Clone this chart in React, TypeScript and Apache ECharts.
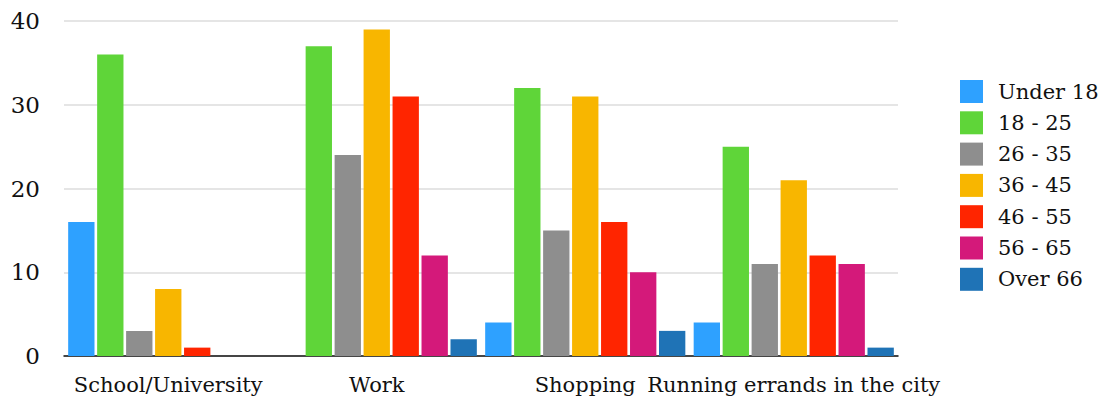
import React, { useEffect, useRef } from "react";
import * as echarts from "echarts";

const categories = ["School/University", "Work", "Shopping", "Running errands in the city"];
const ageGroups = ["Under 18", "18 - 25", "26 - 35", "36 - 45", "46 - 55", "56 - 65", "Over 66"];
const colors = ["#2ea1ff", "#5fd539", "#8e8e8e", "#f8b600", "#ff2500", "#d4197a", "#1f73b6"];

const under18 = [16, 0, 4, 4];
const age18to25 = [36, 37, 32, 25];
const age26to35 = [3, 24, 15, 11];
const age36to45 = [8, 39, 31, 21];
const age46to55 = [1, 31, 16, 12];
const age56to65 = [0, 12, 10, 11];
const over66 = [0, 2, 3, 1];

const seriesValues = [under18, age18to25, age26to35, age36to45, age46to55, age56to65, over66];

const FONT = "DejaVu Serif";

export default function App() {
  const ref = useRef<HTMLDivElement>(null);

  useEffect(() => {
    if (!ref.current) return;
    const chart = echarts.init(ref.current, null, { renderer: "svg" });
    chart.setOption({
      animation: false,
      color: colors,
      textStyle: { fontFamily: FONT },
      grid: { left: 64, right: 212, top: 21, bottom: 42 },
      legend: {
        orient: "vertical",
        left: 955,
        top: 75,
        itemWidth: 23,
        itemHeight: 23,
        itemGap: 8.3,
        icon: "rect",
        textStyle: { fontFamily: FONT, fontSize: 21, color: "#111", padding: [0, 0, 0, 10] },
        data: ageGroups,
      },
      xAxis: {
        type: "category",
        data: categories,
        axisLine: { lineStyle: { color: "#111", width: 1.5 } },
        axisTick: { show: false },
        axisLabel: { fontFamily: FONT, fontSize: 21, color: "#111", margin: 18, interval: 0 },
      },
      yAxis: {
        type: "value",
        min: 0,
        max: 40,
        interval: 10,
        axisLine: { show: false },
        axisTick: { show: false },
        splitLine: { lineStyle: { color: "#dcdcdc", width: 1.5 } },
        axisLabel: { fontFamily: FONT, fontSize: 23, color: "#111", margin: 24 },
      },
      series: ageGroups.map((name, i) => ({
        name,
        type: "bar",
        data: seriesValues[i],
        barGap: "10%",
        barCategoryGap: "4%",
        itemStyle: { borderWidth: 0 },
      })),
    });
    return () => chart.dispose();
  }, []);

  return (
    <div
      ref={ref}
      style={{ position: "fixed", left: 0, top: 0, width: 1110, height: 398, background: "#fff" }}
    />
  );
}
